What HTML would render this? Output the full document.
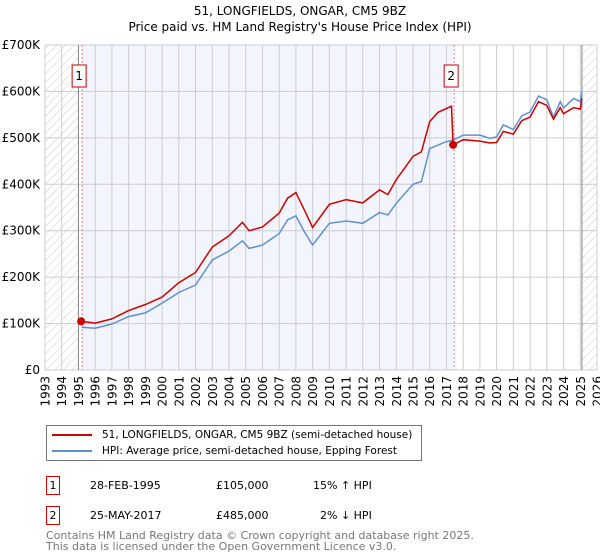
<!DOCTYPE html>
<html><head><meta charset="utf-8"><style>
body{margin:0;background:#fff;font-family:"DejaVu Sans","Liberation Sans",sans-serif;}
#wrap{position:relative;width:600px;height:560px;overflow:hidden}
.t{position:absolute;white-space:nowrap;color:#000}
</style></head><body><div id="wrap">
<div class="t" style="left:0;width:600px;text-align:center;top:3px;font-size:12px;line-height:16px">51, LONGFIELDS, ONGAR, CM5 9BZ<br>Price paid vs. HM Land Registry's House Price Index (HPI)</div>
<svg id="svg" width="600" height="420" style="position:absolute;left:0;top:0;font-family:'DejaVu Sans',sans-serif">
<defs><pattern id="hatch" width="6" height="6" patternUnits="userSpaceOnUse" patternTransform="rotate(45)"><line x1="0" y1="0" x2="0" y2="6" stroke="#ccc" stroke-width="1"/></pattern></defs>
</svg>
<div style="position:absolute;left:46px;top:425px;width:374px;height:34px;border:1px solid #777;font-size:10.5px;white-space:nowrap">
<div style="position:absolute;left:5px;top:3px"><span style="display:inline-block;width:40px;height:2px;background:#cc0000;vertical-align:middle;margin-right:10px"></span>51, LONGFIELDS, ONGAR, CM5 9BZ (semi-detached house)</div>
<div style="position:absolute;left:5px;top:19px"><span style="display:inline-block;width:40px;height:2px;background:#6090d0;vertical-align:middle;margin-right:10px"></span>HPI: Average price, semi-detached house, Epping Forest</div>
</div>
<div style="position:absolute;left:0;top:476px;font-size:11px">
<div class="t" style="left:46px;top:0;width:12px;height:17px;border:1px solid #cc0000;text-align:center;line-height:17px">1</div>
<div class="t" style="left:90px;top:3px">28-FEB-1995</div><div class="t" style="left:216px;top:3px">£105,000</div><div class="t" style="left:313px;top:3px">15% ↑ HPI</div></div>
<div style="position:absolute;left:0;top:506px;font-size:11px">
<div class="t" style="left:46px;top:0;width:12px;height:17px;border:1px solid #cc0000;text-align:center;line-height:17px">2</div>
<div class="t" style="left:90px;top:3px">25-MAY-2017</div><div class="t" style="left:216px;top:3px">£485,000</div><div class="t" style="left:320px;top:3px">2% ↓ HPI</div></div>
<div class="t" style="left:46px;top:530px;font-size:11px;line-height:11px;color:#777">Contains HM Land Registry data © Crown copyright and database right 2025.<br>This data is licensed under the Open Government Licence v3.0.</div>
</div>
<script>
const hpiYears=[1995.2,1996,1997,1998,1999,2000,2001,2002,2003,2004,2004.8,2005.2,2006,2007,2007.5,2008,2008.5,2009,2010,2011,2012,2013,2013.5,2014,2015,2015.5,2016,2017,2017.4,2018,2019,2019.6,2020,2020.4,2021,2021.5,2022,2022.5,2023,2023.4,2023.8,2024,2024.6,2025,2025.1];
const hpiValues=[92,90,99,115,123,144,167,183,237,256,278,262,269,294,323,332,298,269,316,321,316,339,334,359,400,406,477,492,495,506,506,499,502,528,518,547,556,590,582,544,578,564,585,578,599];
const priceYears=[1995.16,1996,1997,1998,1999,2000,2001,2002,2003,2004,2004.8,2005.2,2006,2007,2007.5,2008,2008.5,2009,2010,2011,2012,2013,2013.5,2014,2015,2015.5,2016,2016.5,2017.3,2017.4,2018,2019,2019.6,2020,2020.4,2021,2021.5,2022,2022.5,2023,2023.4,2023.8,2024,2024.6,2025,2025.1];
const priceValues=[105,101,110,128,141,157,188,210,265,289,318,300,308,338,370,382,345,307,357,367,360,388,378,410,460,470,535,555,568,485,496,493,489,490,514,508,537,545,578,570,540,565,552,565,562,585];
const saleYears=[1995.16,2017.4];
const saleValues=[105,485];
const saleLabels=["1","2"];
const yTicks=[0,100,200,300,400,500,600,700];
const yTickLabels=["£0","£100K","£200K","£300K","£400K","£500K","£600K","£700K"];
const xTicks=[];for(let y=1993;y<=2026;y++)xTicks.push(y);

const L=45,R=597,T=45,B=370,X0=1993,X1=2026;
const sx=y=>L+(y-X0)/(X1-X0)*(R-L);
const sy=v=>B-v/700*(B-T);
const svg=document.getElementById('svg');const NS='http://www.w3.org/2000/svg';
function mk(tag,attrs,name){const e=document.createElementNS(NS,tag);for(const k in attrs)e.setAttribute(k,attrs[k]);


svg.appendChild(e);return e;}
mk('rect',{x:L,y:T,width:R-L,height:B-T,fill:'#fff'},'plot-background');
mk('rect',{x:sx(saleYears[0]),y:T,width:sx(saleYears[1])-sx(saleYears[0]),height:B-T,fill:'#f2f5fd'},'ownership-shade');
mk('rect',{x:L,y:T,width:sx(1995)-L,height:B-T,fill:'url(#hatch)'},'hatch-left');
mk('rect',{x:sx(2025.1),y:T,width:R-sx(2025.1),height:B-T,fill:'url(#hatch)'},'hatch-right');
xTicks.forEach(y=>{mk('line',{x1:sx(y),x2:sx(y),y1:T,y2:B,stroke:'#ccc','stroke-width':1},'x-gridline');
const t=mk('text',{x:0,y:0,'text-anchor':'end','font-size':12,fill:'#000',transform:'translate('+(sx(y)+4.5)+',376) rotate(-90)'},'x-tick-label');t.textContent=y;});
yTicks.forEach((v,i)=>{mk('line',{x1:L,x2:R,y1:sy(v),y2:sy(v),stroke:'#ccc','stroke-width':1},'y-gridline');
const t=mk('text',{x:40,y:sy(v)+4,'text-anchor':'end','font-size':12,fill:'#000'},'y-tick-label');t.textContent=yTickLabels[i];});
mk('line',{x1:sx(1995),x2:sx(1995),y1:T,y2:B,stroke:'#888'},'data-start-line');
mk('line',{x1:sx(2025.1),x2:sx(2025.1),y1:T,y2:B,stroke:'#888'},'data-end-line');
const path=(xs,vs)=>xs.map((x,i)=>(i?'L':'M')+sx(x).toFixed(1)+','+sy(vs[i]).toFixed(1)).join('');
mk('path',{d:path(hpiYears,hpiValues),fill:'none',stroke:'#6090d0','stroke-width':1.5},'hpi-line');
mk('path',{d:path(priceYears,priceValues),fill:'none',stroke:'#cc0000','stroke-width':1.5},'price-line');
saleYears.forEach((y,i)=>{
mk('line',{x1:sx(y)+1,x2:sx(y)+1,y1:T,y2:B,stroke:'#f08080','stroke-dasharray':'2,2'},'sale-marker-line');
mk('circle',{cx:sx(y),cy:sy(saleValues[i]),r:4,fill:'#cc0000'},'sale-point');
mk('rect',{x:sx(y)-9,y:65,width:14,height:22,fill:'#fff',stroke:'#cc0000'},'sale-label-box');
const t=mk('text',{x:sx(y)-2,y:80,'text-anchor':'middle','font-size':12},'sale-label');t.textContent=saleLabels[i];});
</script>
</body></html>
